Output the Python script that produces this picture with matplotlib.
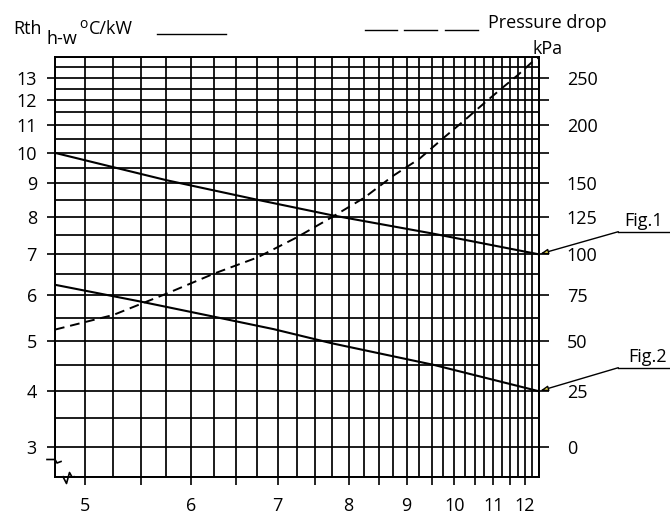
import numpy as np
import matplotlib
matplotlib.use('Agg')
import matplotlib.pyplot as plt
from matplotlib.lines import Line2D

# Dados
fig1_x = [4.75, 5.75, 6.75, 7.75, 9.5, 12.5]
fig1_rth = [10.0, 9.1, 8.5, 8.05, 7.55, 7.0]

fig2_x = [4.75, 5.5, 6.2, 6.95, 7.75, 9.55, 12.5]
fig2_rth = [6.25, 5.86, 5.54, 5.25, 4.95, 4.51, 4.0]

dp_x = [4.75, 5.25, 5.75, 6.25, 6.75, 7.25, 7.75, 8.25, 8.75, 9.25,
        9.75, 10.25, 10.75, 11.25, 11.75, 12.25, 12.5]
dp_kpa = [56, 64, 76, 88, 98, 111, 125, 139, 156, 170,
          188, 205, 222, 238, 253, 269, 275]

rth_ticks = list(range(3, 14))
x_ticks = [5, 5.5, 6, 6.5, 7, 7.5, 8, 8.5, 9, 9.5, 10, 10.5, 11, 11.5, 12]
x_labels = ['5', '', '6', '', '7', '', '8', '', '9', '', '10', '', '11', '', '12']
p_ticks = list(range(0, 251, 25))
p_labels = ['0', '25', '50', '75', '100', '125', '150', '', '200', '', '250']

W, H = 670, 514
FONT = 'Open Sans'
FS = 13


def px(x, y):  # pixel -> fracao da figura
    return (x / W, 1 - y / H)


# escalas do papel (nao lineares)
def fx(x):
    return -np.exp(-0.2 * np.asarray(x, dtype=float))


def fx_inv(v):
    return -5 * np.log(np.clip(-np.asarray(v, dtype=float), 1e-12, None))


def fy(y):
    return -np.exp(-0.1 * np.asarray(y, dtype=float))


def fy_inv(v):
    return -10 * np.log(np.clip(-np.asarray(v, dtype=float), 1e-12, None))


def fp(p):
    return fy(np.asarray(p, dtype=float) / 25 + 3)


def fp_inv(v):
    return (fy_inv(v) - 3) * 25


plt.rcParams['font.family'] = [FONT, 'DejaVu Sans']
plt.rcParams['font.size'] = FS

fig = plt.figure(figsize=(W / 100, H / 100), dpi=100)
ax = fig.add_axes([55 / W, 1 - 476.7 / H, (538.8 - 55) / W, (476.7 - 57.3) / H])

ax.set_xscale('function', functions=(fx, fx_inv))
ax.set_yscale('function', functions=(fy, fy_inv))
ax.set_xlim(4.75, 12.5)
ax.set_ylim(2.5, 14)

ax.set_xticks(x_ticks, labels=x_labels)
ax.set_xticks(np.arange(4.75, 12.51, 0.25), minor=True)
ax.set_yticks(rth_ticks, labels=[str(t) for t in rth_ticks])
ax.set_yticks(np.arange(2.5, 14.01, 0.5), minor=True)
ax.tick_params(axis='x', which='major', length=5.8, width=1.2, pad=8.5, color='black')
ax.tick_params(axis='y', which='major', length=5.5, width=1.2, pad=7.5, color='black')
ax.tick_params(which='minor', length=0)
ax.grid(which='both', color='black', lw=1.25)
for s in ax.spines.values():
    s.set_linewidth(1.25)

ax.plot(fig1_x, fig1_rth, color='black', lw=1.5)
ax.plot(fig2_x, fig2_rth, color='black', lw=1.5)

# eixo da direita - perda de carga
ax2 = ax.twinx()
ax2.set_yscale('function', functions=(fp, fp_inv))
ax2.set_ylim(-12.5, 275)
ax2.set_yticks(p_ticks, labels=p_labels)
ax2.tick_params(axis='y', length=7.2, width=1.2, pad=13, color='black')
ax2.tick_params(which='minor', right=False)
for s in ax2.spines.values():
    s.set_linewidth(1.25)
ax2.plot(dp_x, dp_kpa, color='black', lw=1.4, dashes=(5, 3))

# cabecalho
fig.text(*px(13, 33.5), 'Rth', va='baseline', ha='left')
fig.text(*px(47, 43.5), 'h-w', va='baseline', ha='left')
fig.text(*px(79, 28.5), 'o', va='baseline', ha='left', fontsize=10)
fig.text(*px(89, 33.5), 'C/kW', va='baseline', ha='left')
fig.add_artist(Line2D([157 / W, 226 / W], [1 - 34.3 / H] * 2, transform=fig.transFigure, color='black', lw=1))
for a, b in [(365, 397), (404, 437), (445, 478)]:
    fig.add_artist(Line2D([a / W, b / W], [1 - 30 / H] * 2, transform=fig.transFigure, color='black', lw=1))
fig.text(*px(488, 28.5), 'Pressure drop', va='baseline', ha='left')
fig.text(*px(532, 54), 'kPa', va='baseline', ha='left')

# indicacoes Fig.1 / Fig.2
for nome, xd, yd, yl, xt in [('Fig.1', fig1_x[-1], fig1_rth[-1], 231.7, 624),
                             ('Fig.2', fig2_x[-1], fig2_rth[-1], 367.7, 628)]:
    ax.annotate('', xy=(xd, yd), xycoords='data', xytext=px(618.3, yl),
                textcoords='figure fraction', annotation_clip=False,
                arrowprops=dict(arrowstyle='-|>,head_length=0.35,head_width=0.12',
                                fc='#f0e050', ec='black', lw=1, shrinkA=0, shrinkB=1))
    fig.add_artist(Line2D([618.3 / W, 670 / W], [1 - yl / H] * 2, transform=fig.transFigure, color='black', lw=1))
    fig.text(*px(xt, yl - 6), nome, va='baseline', ha='left')

# marcas de quebra dos eixos
quebra1 = [(47, 459.5), (55, 459.5), (57, 463), (61, 461.5)]
quebra2 = [(63, 476.7), (66.5, 483.5), (69.5, 472.5), (72, 477), (74, 476.7)]
for q in [quebra1, quebra2]:
    xs = [p[0] / W for p in q]
    ys = [1 - p[1] / H for p in q]
    fig.add_artist(Line2D(xs, ys, transform=fig.transFigure, color='black', lw=1.2))

fig.savefig('out.png', dpi=100)
